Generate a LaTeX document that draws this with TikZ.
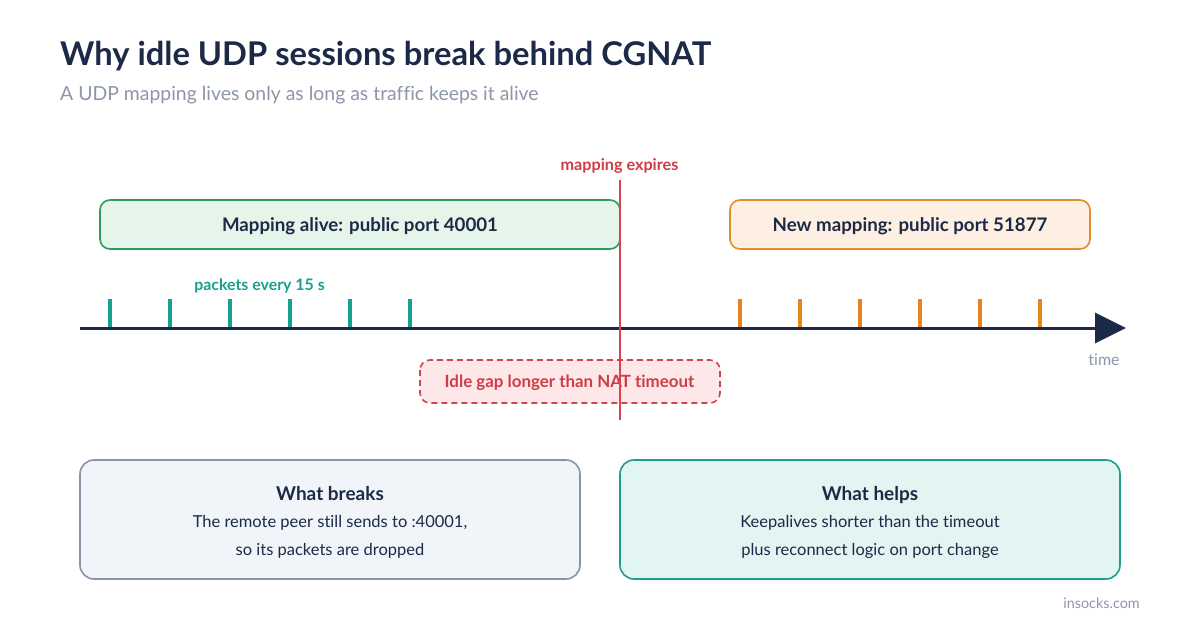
\documentclass[tikz,border=0pt]{standalone}
\usepackage{fontspec}
\setmainfont{Lato}[Ligatures=NoCommon]
\usetikzlibrary{arrows.meta}
\definecolor{navy}{HTML}{1C2A47}
\definecolor{subgray}{HTML}{8C96A8}
\definecolor{redline}{HTML}{D9434B}
\definecolor{redtext}{HTML}{D03C46}
\definecolor{greenfill}{HTML}{E6F5EA}
\definecolor{greenstroke}{HTML}{2E9A5C}
\definecolor{orangefill}{HTML}{FDEFE1}
\definecolor{orangestroke}{HTML}{E08C30}
\definecolor{teal}{HTML}{16A08E}
\definecolor{orangetick}{HTML}{E8841E}
\definecolor{gapfill}{HTML}{FDE7E8}
\definecolor{gapstroke}{HTML}{C9474F}
\definecolor{breakfill}{HTML}{F1F5F9}
\definecolor{breakstroke}{HTML}{8A94A6}
\definecolor{helpfill}{HTML}{E2F5F2}
\definecolor{helpstroke}{HTML}{1E9C8C}
\tikzset{
  px/.style={x=1pt,y=-1pt},
  bar/.style={rounded corners=10pt, line width=1.6pt},
  barlabel/.style={font=\bfseries\fontsize{18.7}{22}\selectfont, text=navy},
  card/.style={rounded corners=14pt, line width=1.6pt},
  cardhead/.style={anchor=base, font=\bfseries\fontsize{19}{22}\selectfont, text=navy},
  cardline/.style={anchor=base, font=\fontsize{16.5}{20}\selectfont, text=navy},
  tickA/.style={draw=teal, line width=3.5pt},
  tickB/.style={draw=orangetick, line width=3.5pt},
}
\begin{document}
\begin{tikzpicture}[px]
\useasboundingbox (0,0) rectangle (1200,630);
\fill[white] (0,0) rectangle (1200,630);
% title
\node[anchor=base west, inner sep=0pt, text=navy, font=\bfseries\fontsize{32.7}{38}\selectfont] (title) at (60,65) {Why idle UDP sessions break behind CGNAT};
\node[anchor=base west, inner sep=0pt, text=subgray, font=\fontsize{19.4}{23}\selectfont] (subtitle) at (60,100) {A UDP mapping lives only as long as traffic keeps it alive};
% boxes above timeline
\draw[bar, fill=greenfill, draw=greenstroke] (100,200) rectangle (620,249);
\node[barlabel] (alive) at (360,226.5) {Mapping alive: public port 40001};
\draw[bar, fill=orangefill, draw=orangestroke] (730,200) rectangle (1090,249);
\node[barlabel] (newmap) at (910,226.5) {New mapping: public port 51877};
% packets label
\node[font=\bfseries\fontsize{15.9}{18}\selectfont, text=teal] (pkts) at (259.5,285.5) {packets every 15 s};
% ticks
\foreach \x in {110,170,230,290,350,410} \draw[tickA] (\x,299) -- (\x,328);
\foreach \x in {740,800,860,920,980,1040} \draw[tickB] (\x,299) -- (\x,328);
% timeline
\coordinate (tstart) at (80,328);
\coordinate (tend) at (1126,328);
\draw[navy, line width=3pt, -{Triangle[length=31pt,width=30pt]}] (tstart) -- (tend);
\node[anchor=base, text=subgray, font=\fontsize{16}{19}\selectfont] (time) at (1104,365) {time};
% idle gap box
\draw[rounded corners=10pt, line width=1.6pt, dash pattern=on 6pt off 4pt, fill=gapfill, draw=gapstroke] (420,360) rectangle (720,403);
\node[font=\bfseries\fontsize{16.9}{20}\selectfont, text=redtext] (gap) at (569.5,383) {Idle gap longer than NAT timeout};
% expiry line
\node[font=\bfseries\fontsize{16.2}{19}\selectfont, text=redtext] (expires) at (619.5,165.5) {mapping expires};
\coordinate (etop) at (620,180);
\coordinate (ebot) at (620,420);
\draw[redline, line width=2pt] (etop) -- (ebot);
% bottom cards
\draw[card, fill=breakfill, draw=breakstroke] (80,460) rectangle (580,579);
\node[cardhead] (wb) at (330,500) {What breaks};
\node[cardline] (wb1) at (330,527) {The remote peer still sends to :40001,};
\node[cardline] (wb2) at (330,555) {so its packets are dropped};
\draw[card, fill=helpfill, draw=helpstroke] (620,460) rectangle (1120,579);
\node[cardhead] (wh) at (870,500) {What helps};
\node[cardline] (wh1) at (870,527) {Keepalives shorter than the timeout};
\node[cardline] (wh2) at (870,555) {plus reconnect logic on port change};
% footer
\node[anchor=base east, inner sep=0pt, text=subgray, font=\fontsize{14.4}{17}\selectfont] (brand) at (1140,608) {insocks.com};
\end{tikzpicture}
\end{document}
